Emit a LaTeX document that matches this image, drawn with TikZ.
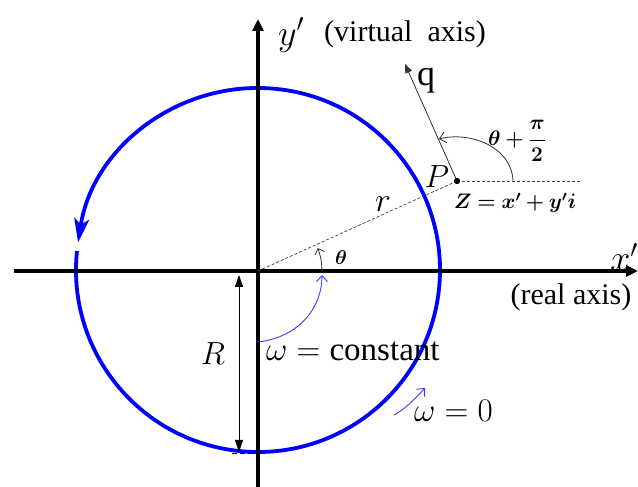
\RequirePackage{fix-cm}
\documentclass[tikz,border=0pt]{standalone}
\usepackage{amsmath}
\usepackage{bm}
\usepackage{fontspec}
\setmainfont{Liberation Serif}
\usetikzlibrary{arrows.meta}
\definecolor{cblue}{RGB}{0,0,255}
\definecolor{lblue}{RGB}{60,60,255}
\tikzset{
  axis/.style={line width=3.5pt,-{Triangle[length=12pt,width=11pt]}},
  thin line/.style={line width=0.8pt,draw=black!80},
  lbl/.style={inner sep=0pt},
}
\newcommand{\fs}[1]{\fontsize{#1}{#1}\selectfont}
\begin{document}
\begin{tikzpicture}[x=1pt,y=1pt]
\useasboundingbox (0,0) rectangle (638,487);
% coordinates
\coordinate (O) at (258,216);
\coordinate (xl) at (14,216);
\coordinate (xr) at (638,216);
\coordinate (yb) at (258,0);
\coordinate (yt) at (258,468);
\coordinate (P) at (457,306);
\coordinate (Pr) at (580,306);
\coordinate (q) at (405,423);
% circle with arrow
\draw[cblue,line width=3.8pt,-{Stealth[length=24pt,width=15pt,inset=6pt]}]
  (258,217) ++(174:182) arc[start angle=174,end angle=531.3,radius=182];
% axes
\draw[axis] (xl) -- (xr);
\draw[axis] (yb) -- (yt);
% dashed
\draw[dashed,line width=0.7pt,black!75,dash pattern=on 3pt off 2pt] (O) -- (P);
\draw[dashed,line width=0.7pt,black!75,dash pattern=on 3pt off 2pt] (P) -- (Pr);
% q arrow
\draw[thin line,-{Triangle[length=9pt,width=7pt]}] (P) -- (q);
\fill (P) circle (3.2pt);
% theta+pi/2 arc
\draw[thin line,-{Straight Barb[length=6pt,width=11pt]}] (513,306) .. controls (512,340) and (470,356) .. (439,348);
% theta arc
\draw[thin line,-{Straight Barb[length=5pt,width=10pt]}] (322,216) arc[start angle=0,end angle=21,radius=64];
% blue omega arrows
\draw[lblue,line width=0.9pt,-{Straight Barb[length=6pt,width=11pt]}] (258,145) .. controls (300,150) and (322,180) .. (322,212);
\draw[lblue,line width=0.9pt,-{Straight Barb[length=6pt,width=11pt]}] (394,72) .. controls (405,78) and (415,88) .. (425,99);
% R arrow
\draw[line width=0.8pt,{Triangle[length=12pt,width=8pt]}-{Triangle[length=12pt,width=8pt]}] (239,212) -- (239,35);
\draw[dashed,line width=0.8pt,dash pattern=on 5pt off 3pt] (232,34) -- (250,34);
% labels
\node[lbl] (ylab) at (291,452) {\fs{36}$y'$};
\node[lbl] (yvirt) at (405,453) {\fs{30}(virtual\ \ axis)};
\node[lbl] (xlab) at (624,230) {\fs{36}$x'$};
\node[lbl] (xreal) at (571,190) {\fs{30}(real axis)};
\node[lbl] (qlab) at (426,406) {\fs{36}q};
\node[lbl] (thp) at (517,346) {\fs{21}$\bm{\theta+\dfrac{\pi}{2}}$};
\node[lbl] (Plab) at (437,310) {\fs{32}$P$};
\node[lbl] (Zlab) at (515,284) {\fs{21}$\bm{Z=x'+y'i}$};
\node[lbl] (rlab) at (383,283) {\fs{34}$r$};
\node[lbl] (thlab) at (341,229) {\fs{20}$\bm{\theta}$};
\node[lbl,anchor=west] (wc) at (266,136) {\fs{33}$\omega=\mathrm{constant}$};
\node[lbl,anchor=west] (w0) at (414,76) {\fs{33}$\omega=0$};
\node[lbl] (Rlab) at (213,133) {\fs{32}$R$};
\end{tikzpicture}
\end{document}
